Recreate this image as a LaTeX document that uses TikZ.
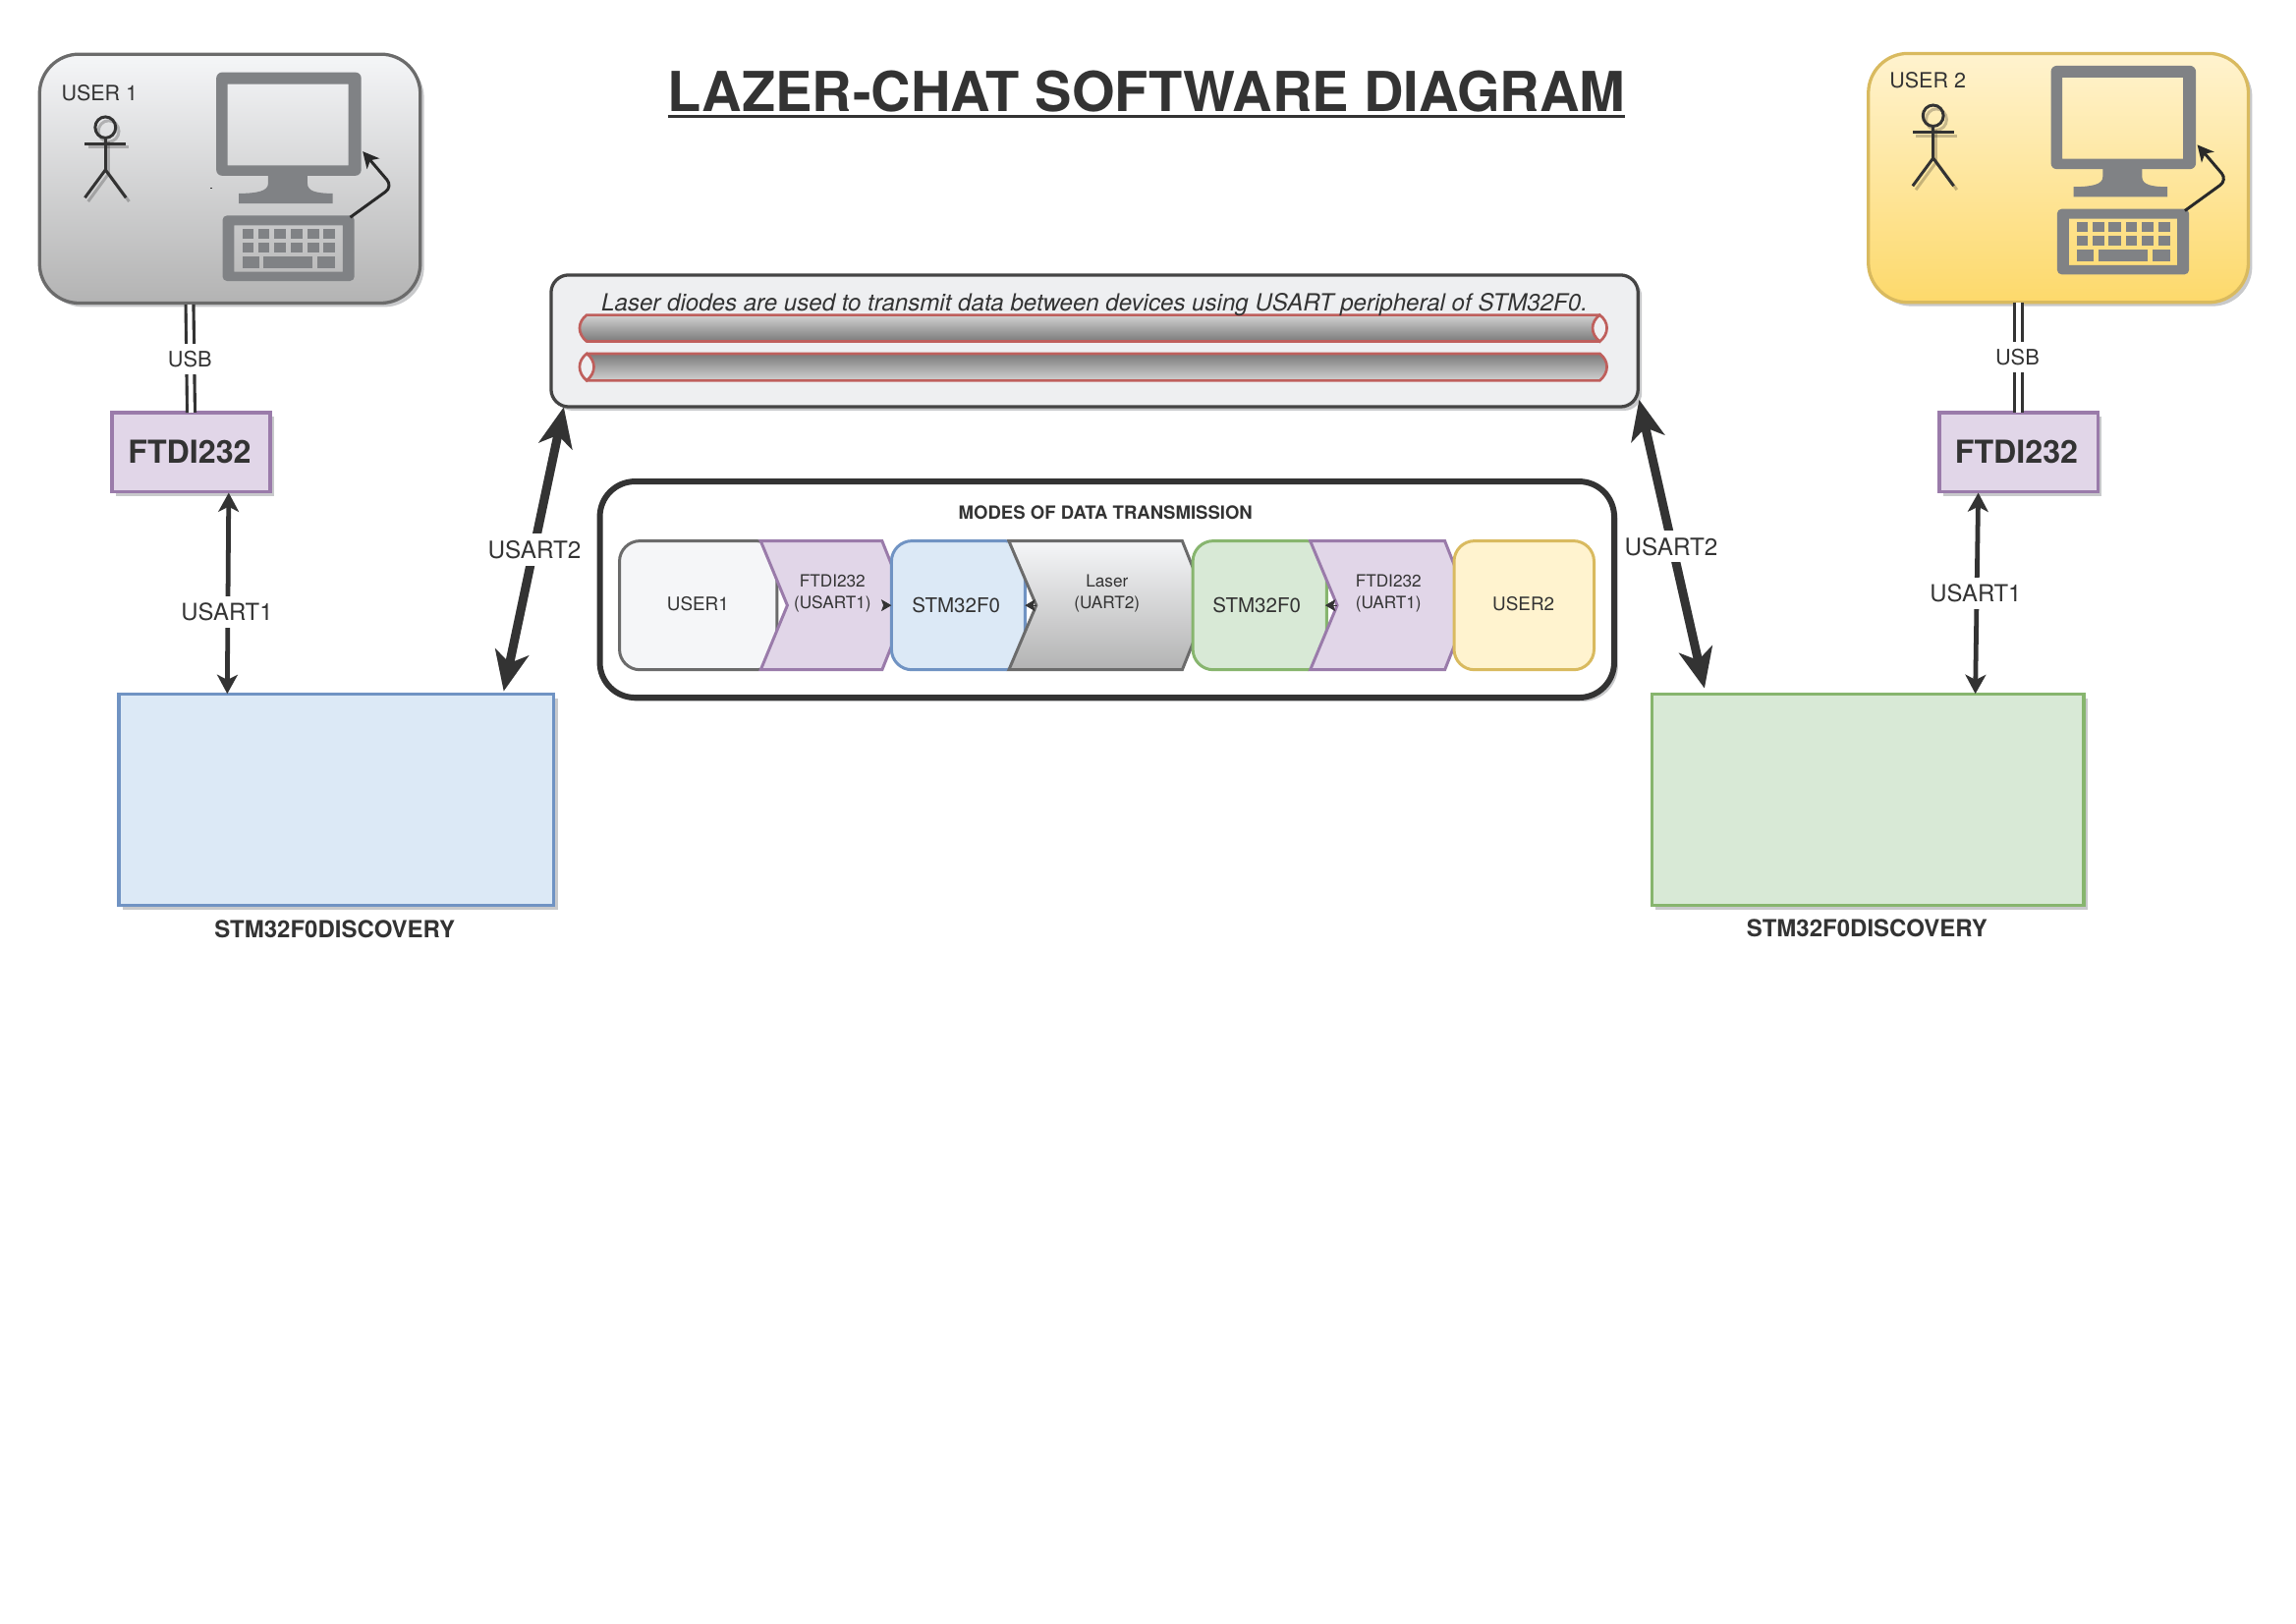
\documentclass[tikz,border=0pt]{standalone}
\usepackage{fontspec}
\setmainfont{TeX Gyre Heros}
\usetikzlibrary{arrows.meta,shadows,calc}
\def\UU{0.537pt}
\newcommand{\fsz}[1]{\fontsize{#1}{#1}\selectfont}
\definecolor{ink}{HTML}{333333}
\definecolor{shad}{HTML}{C8C9CB}
\definecolor{icon}{HTML}{808285}
\definecolor{grayline}{HTML}{6B6B6B}
\definecolor{grayfill}{HTML}{F5F6F8}
\definecolor{graybot}{HTML}{B3B3B3}
\definecolor{yelline}{HTML}{D9BA5F}
\definecolor{yelfill}{HTML}{FFF3CF}
\definecolor{yelbot}{HTML}{FDD96B}
\definecolor{purline}{HTML}{9A7BAA}
\definecolor{purfill}{HTML}{E1D6E8}
\definecolor{bluline}{HTML}{7093C3}
\definecolor{blufill}{HTML}{DCE9F6}
\definecolor{greline}{HTML}{87B56E}
\definecolor{grefill}{HTML}{D8E9D6}
\definecolor{redline}{HTML}{BF5F5C}
\definecolor{laserbg}{HTML}{EEEFF1}
\definecolor{laserline}{HTML}{444444}
\tikzset{
  x=0.537pt,y=-0.537pt,
  every node/.style={text=ink,inner sep=0pt,outer sep=0pt},
  sh/.style={general shadow={shadow xshift=2.6*\UU,shadow yshift=-2.6*\UU,fill=shad}},
  stdbox/.style={draw,line width=2.2*\UU,sh,anchor=center},
  userbox/.style={stdbox,rounded corners=27*\UU,line width=2.2*\UU},
  purbox/.style={stdbox,draw=purline,fill=purfill,font=\bfseries\fsz{11.6pt}},
  inner/.style={draw,line width=2*\UU,rounded corners=14*\UU,anchor=center},
  chev/.style={draw,line width=2*\UU,line join=miter},
  lab/.style={fill=white,inner xsep=1.5pt,inner ysep=2.5pt},
  small/.style={align=center,font=\fsz{6.2pt}},
  med/.style={font=\fsz{7.4pt}},
  usb/.style={double=white,double distance=3.2*\UU,line width=2.1*\UU,draw=ink},
  tip1/.style={{Stealth[length=13*\UU,width=14*\UU,inset=3.5*\UU]}-{Stealth[length=13*\UU,width=14*\UU,inset=3.5*\UU]}},
  tip2/.style={{Stealth[length=27*\UU,width=23*\UU,inset=7.5*\UU]}-{Stealth[length=27*\UU,width=23*\UU,inset=7.5*\UU]}},
  link1/.style={tip1,line width=3.2*\UU,draw=ink},
  link2/.style={tip2,line width=6*\UU,draw=ink},
  link2s/.style={tip2,line width=6*\UU,draw=shad,shift={(2.6,2.6)}},
  tiny/.style={-{Stealth[length=7*\UU,width=8*\UU,inset=1.5*\UU]},draw=ink,line width=.6*\UU},
  pics/computer/.style={code={
    \fill[icon,even odd rule] [rounded corners=4*\UU] (0,0) rectangle (99,70.6) [sharp corners] (7.7,8) rectangle (90.3,63.5);
    \fill[icon] (35.4,68) -- (35.4,76) .. controls (35.4,81) and (28,82.7) .. (15.5,82.7) -- (15.5,89.5) -- (79.5,89.5) -- (79.5,82.7) .. controls (68,82.7) and (62.3,81) .. (62.3,76) -- (62.3,68) -- cycle;
    \fill[icon,even odd rule] [rounded corners=3*\UU] (4.3,97.8) rectangle (94.3,142.5) [sharp corners] (12.3,104.5) rectangle (86.3,136.2);
    \foreach \a/\b in {17.7/25.1,28.7/36.3,39.3/47.7,51/58.7,62/70.3,73.3/81.3}{
      \fill[icon] (\a,106.6) rectangle (\b,113.6);
      \fill[icon] (\a,116.3) rectangle (\b,122.9);
    }
    \fill[icon] (17.7,125.6) rectangle (29.3,133.6);
    \fill[icon] (32.3,125.6) rectangle (65.9,133.6);
    \fill[icon] (69.3,125.6) rectangle (81.3,133.6);
    \coordinate (-kb) at (91.5,99);
    \coordinate (-bend) at (120.5,78);
    \coordinate (-scr) at (100,54);
    \draw[line width=2*\UU,draw=ink!80!black,rounded corners=6*\UU,-{Stealth[length=11*\UU,width=11*\UU,inset=3*\UU]}] (-kb) -- (-bend) -- (-scr);
  }},
  actorlines/.style={line width=2*\UU},
  pics/actor/.style={code={
    \begin{scope}[shift={(2.2,2.6)},black,opacity=.22]
      \draw[actorlines] (0,0) ellipse (7 and 7.2);
      \draw[actorlines] (-14,11) -- (14,11);
      \draw[actorlines] (0,7.2) -- (0,29);
      \draw[actorlines] (-14,48) -- (0,29) -- (14,48);
    \end{scope}
    \draw[actorlines,draw=ink] (0,0) ellipse (7 and 7.2);
    \draw[actorlines,draw=ink] (-14,11) -- (14,11);
    \draw[actorlines,draw=ink] (0,7.2) -- (0,29);
    \draw[actorlines,draw=ink] (-14,48) -- (0,29) -- (14,48);
  }},
}
\begin{document}
\begin{tikzpicture}
\useasboundingbox (0,0) rectangle (1568,1109);
\fill[white] (0,0) rectangle (1568,1109);

% title
\node[anchor=base,font=\bfseries\fsz{20.2pt}] (title) at (783,76) {LAZER-CHAT SOFTWARE DIAGRAM};
\draw[ink,line width=2.2*\UU] ([yshift=-3.6*\UU]title.base west) -- ([yshift=-3.6*\UU]title.base east);

% user 1
\node[userbox,draw=grayline,top color=grayfill,bottom color=graybot,minimum width=260*\UU,minimum height=170*\UU] (u1box) at (157,122) {};
\node[anchor=west,font=\fsz{7.73pt}] (u1text) at (42,63.5) {USER 1};
\pic at (72,87) {actor};
\pic (c1) at (147.7,49.4) {computer};
\draw[ink,line width=.7*\UU] (143.8,128.6) -- (145,128.6);

% user 2
\node[userbox,draw=yelline,top color=yelfill,bottom color=yelbot,minimum width=259.5*\UU,minimum height=170*\UU] (u2box) at (1405.7,121.5) {};
\node[anchor=west,font=\fsz{7.73pt}] (u2text) at (1290.5,55) {USER 2};
\pic at (1320.2,79) {actor};
\pic (c2) at (1400.6,44.9) {computer};

% FTDI
\node[purbox,minimum width=108*\UU,minimum height=54.2*\UU] (ftdi1) at (130.5,308.9) {\kern-1.1pt FTDI232};
\node[purbox,minimum width=108.3*\UU,minimum height=54.2*\UU] (ftdi2) at (1378.6,308.9) {\kern-1.6pt FTDI232};

% STM boards
\node[stdbox,draw=bluline,fill=blufill,minimum width=297*\UU,minimum height=144.3*\UU] (stm1) at (229.7,546.3) {};
\node[stdbox,draw=greline,fill=grefill,minimum width=295*\UU,minimum height=144.3*\UU] (stm2) at (1275.5,546.3) {};
\node[font=\bfseries\fsz{8.65pt}] (stm1t) at (228.6,634.6) {STM32F0DISCOVERY};
\node[font=\bfseries\fsz{8.65pt}] (stm2t) at (1275,633.6) {STM32F0DISCOVERY};

% laser box
\node[stdbox,draw=laserline,fill=laserbg,rounded corners=12*\UU,minimum width=742.3*\UU,minimum height=90*\UU] (laser) at (747.5,232.8) {};
% tube 1
\shade[top color=black!18,bottom color=black!52] (400.7,215.1) .. controls (394.2,220) and (394.2,228) .. (400.7,233.2) -- (1092.5,233.2) -- (1092.5,215.1) -- cycle;
\draw[redline,line width=1.8*\UU] (1092.5,215.1) -- (400.7,215.1) .. controls (394.2,220) and (394.2,228) .. (400.7,233.2) -- (1092.5,233.2);
\draw[redline,fill=laserbg,line width=1.8*\UU] (1092.5,215.1) .. controls (1099,220) and (1099,228) .. (1092.5,233.2) .. controls (1086,228) and (1086,220) .. (1092.5,215.1) -- cycle;
% tube 2
\shade[top color=black!52,bottom color=black!18] (400.7,241.5) -- (1092.5,241.5) .. controls (1099,246.5) and (1099,254.5) .. (1092.5,259.9) -- (400.7,259.9) -- cycle;
\draw[redline,line width=1.8*\UU] (400.7,241.5) -- (1092.5,241.5) .. controls (1099,246.5) and (1099,254.5) .. (1092.5,259.9) -- (400.7,259.9);
\draw[redline,fill=laserbg,line width=1.8*\UU] (400.7,241.5) .. controls (407.2,246.5) and (407.2,254.5) .. (400.7,259.9) .. controls (394.2,254.5) and (394.2,246.5) .. (400.7,241.5) -- cycle;
\node[font=\itshape\fsz{8.68pt}] (lasertext) at (747.5,208.3) {Laser diodes are used to transmit data between devices using USART peripheral of STM32F0.};

% modes
\node[stdbox,draw=ink,fill=white,line width=4*\UU,rounded corners=24*\UU,minimum width=692.7*\UU,minimum height=147.6*\UU] (modes) at (756,402.6) {};
\node[font=\bfseries\fsz{6.68pt}] (modest) at (755,349.8) {MODES OF DATA TRANSMISSION};

\node[inner,draw=grayline,fill=grayfill,minimum width=107.5*\UU,minimum height=88*\UU] (m1) at (476.8,413.4) {};
\draw[chev,draw=purline,fill=purfill] (519.5,369.5) -- (602.4,369.5) -- (620,413.4) -- (602.4,457.4) -- (519.5,457.4) -- (537.7,413.4) -- cycle;
\node[inner,draw=bluline,fill=blufill,minimum width=91.2*\UU,minimum height=88*\UU] (m3) at (654.4,413.4) {};
\draw[chev,draw=grayline,top color=grayfill,bottom color=graybot] (689,369.5) -- (807.4,369.5) -- (825,413.4) -- (807.4,457.4) -- (689,457.4) -- (707.7,413.4) -- cycle;
\node[inner,draw=greline,fill=grefill,minimum width=91.4*\UU,minimum height=88*\UU] (m5) at (860.3,413.4) {};
\draw[chev,draw=purline,fill=purfill] (894.8,369.5) -- (986.7,369.5) -- (1004,413.4) -- (986.7,457.4) -- (894.8,457.4) -- (913.2,413.4) -- cycle;
\node[inner,draw=yelline,fill=yelfill,minimum width=95.6*\UU,minimum height=88*\UU] (m7) at (1040.8,413.4) {};

\node[font=\fsz{6.8pt}] (t1) at (476.6,412.6) {USER1};
\node[small] (t2) at (568.5,405.2) {FTDI232\\[1.5pt](USART1)};
\node[med] (t3) at (653,413.2) {STM32F0};
\node[small] (t4) at (756,405.2) {Laser\\[1.8pt](UART2)};
\node[med] (t5) at (858.3,413.2) {STM32F0};
\node[small] (t6) at (948.2,405.2) {FTDI232\\[1.5pt](UART1)};
\node[font=\fsz{6.8pt}] (t7) at (1040.4,412.6) {USER2};

\coordinate (a1) at (603,413.4);
\draw[tiny] (a1) -- (m3.west);
\coordinate (a2) at (707.5,413.4); \coordinate (a2e) at (700,413.4);
\draw[tiny] (a2) -- (a2e);
\coordinate (a3) at (913,413.4); \coordinate (a3e) at (905,413.4);
\draw[tiny] (a3) -- (a3e);

% connectors
\draw[usb] (129.5,208) -- (ftdi1.north);
\node[lab,font=\fsz{7.84pt}] (usb1l) at (129.7,245.3) {USB};
\draw[usb] (ftdi2.north |- u2box.south) -- (ftdi2.north);
\node[lab,font=\fsz{7.84pt}] (usb2l) at (1377.7,243.8) {USB};

\coordinate (l1a) at (156.2,336.5); \coordinate (l1b) at (155.2,473.8);
\draw[link1] (l1a) -- (l1b);
\node[lab,font=\fsz{8.6pt}] (l1l) at (155,417.8) {USART1};
\coordinate (r1a) at (1351,336.5); \coordinate (r1b) at (1349,473.8);
\draw[link1] (r1a) -- (r1b);
\node[lab,font=\fsz{8.6pt}] (r1t) at (1349.2,405.2) {USART1};

\coordinate (l2a) at (385,278); \coordinate (l2b) at (344,472);
\coordinate (r2a) at (1119.4,273); \coordinate (r2b) at (1164,470);
\draw[link2s] (l2a) -- (l2b);
\draw[link2s] (r2a) -- (r2b);
\draw[link2] (l2a) -- (l2b);
\draw[link2] (r2a) -- (r2b);
\node[lab,font=\fsz{8.75pt}] (l2l) at (365,375.5) {USART2};
\node[lab,font=\fsz{8.75pt}] (r2l) at (1141.3,373.2) {USART2};
\end{tikzpicture}
\end{document}
